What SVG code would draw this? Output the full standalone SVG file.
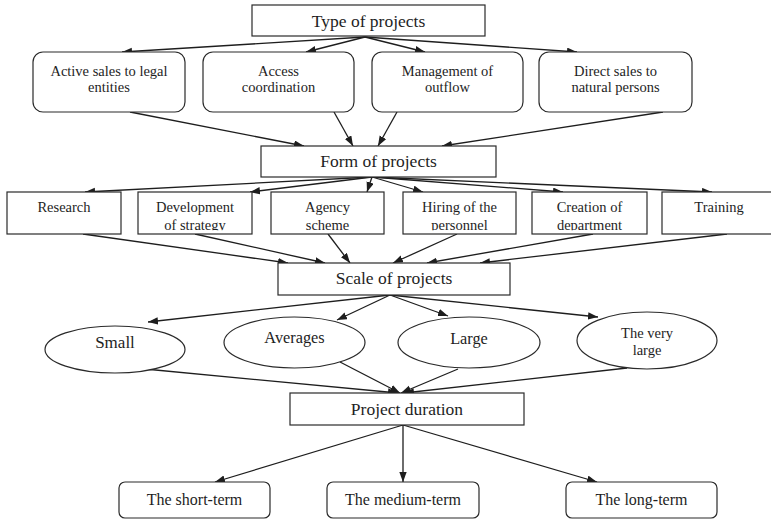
<svg xmlns="http://www.w3.org/2000/svg" width="771" height="519" viewBox="0 0 771 519">
<style>
.b{fill:#fff;stroke:#2a2a2a;stroke-width:1.2}
.t{fill:#1e1e1e;text-anchor:middle}
.h{font-size:17.5px}
.s{font-size:14.5px}
.m{font-size:16.3px}
.c line{stroke:#1e1e1e;stroke-width:1.3;marker-end:url(#a)}
</style>
<defs>
<marker id="a" markerUnits="userSpaceOnUse" markerWidth="11" markerHeight="8" refX="10" refY="3.7" orient="auto">
<path d="M0,0 L10,3.7 L0,7.4 Z" fill="#1e1e1e"/>
</marker>
<clipPath id="k1"><rect x="7" y="192" width="114" height="38.3"/></clipPath>
<clipPath id="k2"><rect x="138" y="192" width="114" height="38.3"/></clipPath>
<clipPath id="k3"><rect x="271" y="192" width="113" height="38.3"/></clipPath>
<clipPath id="k4"><rect x="403" y="192" width="113" height="38.3"/></clipPath>
<clipPath id="k5"><rect x="532" y="192" width="115" height="38.3"/></clipPath>
<clipPath id="k6"><rect x="662" y="192" width="110" height="38.3"/></clipPath>
</defs>

<g class="c" id="connectors">
<line x1="365" y1="37" x2="122" y2="52"/>
<line x1="365" y1="37" x2="306" y2="52"/>
<line x1="365" y1="37" x2="425" y2="52"/>
<line x1="365" y1="37" x2="577" y2="52"/>
<line x1="130" y1="112" x2="304" y2="146"/>
<line x1="334" y1="112" x2="353" y2="146"/>
<line x1="397" y1="112" x2="378" y2="146"/>
<line x1="663" y1="112" x2="442" y2="146"/>
<line x1="372" y1="177" x2="85" y2="192"/>
<line x1="372" y1="177" x2="250" y2="192"/>
<line x1="372" y1="177" x2="367" y2="192"/>
<line x1="372" y1="177" x2="423" y2="192"/>
<line x1="372" y1="177" x2="563" y2="192"/>
<line x1="372" y1="177" x2="712" y2="192"/>
<line x1="83" y1="234" x2="288" y2="263"/>
<line x1="195" y1="234" x2="325" y2="263"/>
<line x1="328" y1="234" x2="350" y2="263"/>
<line x1="457" y1="234" x2="393" y2="263"/>
<line x1="593" y1="234" x2="427" y2="263"/>
<line x1="727" y1="234" x2="480" y2="263"/>
<line x1="390" y1="295" x2="148" y2="322"/>
<line x1="390" y1="295" x2="337" y2="320"/>
<line x1="390" y1="295" x2="448" y2="316"/>
<line x1="390" y1="295" x2="598" y2="317"/>
<line x1="145" y1="369" x2="398" y2="393"/>
<line x1="340" y1="362" x2="400" y2="393"/>
<line x1="458" y1="369" x2="401" y2="393"/>
<line x1="627" y1="368" x2="404" y2="393"/>
<line x1="403" y1="425" x2="215" y2="482"/>
<line x1="403" y1="425" x2="403" y2="482"/>
<line x1="403" y1="425" x2="597" y2="482"/>
</g>

<g id="nodes" font-family="'Liberation Serif', 'DejaVu Serif', 'Noto Serif', serif">
<g id="type-of-projects"><rect class="b" x="252" y="5" width="233" height="31"/><text class="t h" x="368.5" y="27">Type of projects</text></g>

<g id="active-sales"><rect class="b" x="33" y="52" width="152" height="60" rx="10"/><text class="t s" x="109" y="76">Active sales to legal</text><text class="t s" x="109" y="92">entities</text></g>
<g id="access-coordination"><rect class="b" x="203" y="52" width="151" height="60" rx="10"/><text class="t s" x="278.5" y="76">Access</text><text class="t s" x="278.5" y="92">coordination</text></g>
<g id="management-outflow"><rect class="b" x="372" y="52" width="151" height="60" rx="10"/><text class="t s" x="447.5" y="76">Management of</text><text class="t s" x="447.5" y="92">outflow</text></g>
<g id="direct-sales"><rect class="b" x="539" y="52" width="153" height="60" rx="10"/><text class="t s" x="615.5" y="76">Direct sales to</text><text class="t s" x="615.5" y="92">natural persons</text></g>

<g id="form-of-projects"><rect class="b" x="261" y="146" width="235" height="31"/><text class="t h" x="378.5" y="167">Form of projects</text></g>

<g id="research"><rect class="b" x="7" y="192" width="114" height="42"/><text class="t s" x="64" y="212" clip-path="url(#k1)">Research</text></g>
<g id="development"><rect class="b" x="138" y="192" width="114" height="42"/><g clip-path="url(#k2)"><text class="t s" x="195" y="212">Development</text><text class="t s" x="195" y="229.5">of strategy</text></g></g>
<g id="agency"><rect class="b" x="271" y="192" width="113" height="42"/><g clip-path="url(#k3)"><text class="t s" x="327.5" y="212">Agency</text><text class="t s" x="327.5" y="229.5">scheme</text></g></g>
<g id="hiring"><rect class="b" x="403" y="192" width="113" height="42"/><g clip-path="url(#k4)"><text class="t s" x="459.5" y="212">Hiring of the</text><text class="t s" x="459.5" y="229.5">personnel</text></g></g>
<g id="creation"><rect class="b" x="532" y="192" width="115" height="42"/><g clip-path="url(#k5)"><text class="t s" x="589.5" y="212">Creation of</text><text class="t s" x="589.5" y="229.5">department</text></g></g>
<g id="training"><rect class="b" x="662" y="192" width="112" height="42"/><text class="t s" x="719" y="212" clip-path="url(#k6)">Training</text></g>

<g id="scale-of-projects"><rect class="b" x="278" y="263" width="232" height="32"/><text class="t h" x="394" y="284">Scale of projects</text></g>

<g id="small"><ellipse class="b" cx="115" cy="349.5" rx="70" ry="23.5"/><text class="t" font-size="17" x="115" y="347.5">Small</text></g>
<g id="averages"><ellipse class="b" cx="294.5" cy="342.5" rx="70.5" ry="25.5"/><text class="t m" x="294.5" y="343">Averages</text></g>
<g id="large"><ellipse class="b" cx="469" cy="342.5" rx="71" ry="25.5"/><text class="t m" x="469" y="344">Large</text></g>
<g id="very-large"><ellipse class="b" cx="647" cy="340.5" rx="70" ry="28.5"/><text class="t s" x="647" y="338">The very</text><text class="t s" x="647" y="355">large</text></g>

<g id="project-duration"><rect class="b" x="290" y="393" width="234" height="32"/><text class="t h" x="407" y="415">Project duration</text></g>

<g id="short-term"><rect class="b" x="119" y="482" width="151" height="36" rx="6"/><text class="t" font-size="16" x="194.5" y="505">The short-term</text></g>
<g id="medium-term"><rect class="b" x="327" y="482" width="152" height="36" rx="6"/><text class="t" font-size="16" x="403" y="505">The medium-term</text></g>
<g id="long-term"><rect class="b" x="566" y="482" width="151" height="36" rx="6"/><text class="t" font-size="16" x="641.5" y="505">The long-term</text></g>
</g>
</svg>
